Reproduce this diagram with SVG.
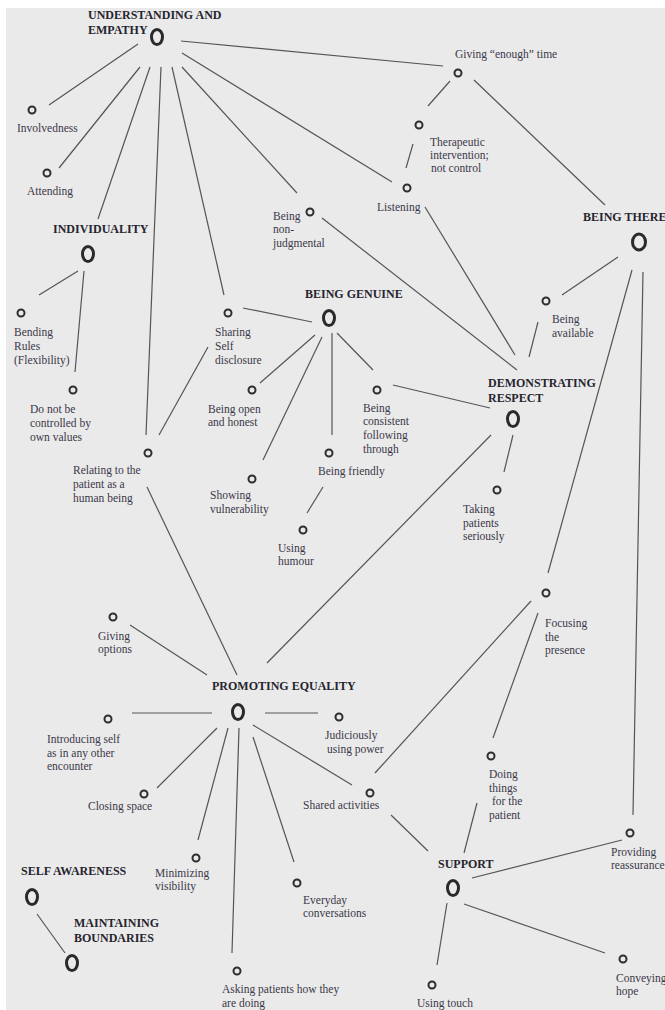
<svg xmlns="http://www.w3.org/2000/svg" width="665" height="1010" viewBox="0 0 665 1010">
<style>
text{font-family:"Liberation Serif","Times New Roman",serif;font-size:11.5px;fill:#3a3848}
.h{font-weight:bold;font-size:12px;fill:#26242e}
.big{fill:none;stroke:#2a2a2a;stroke-width:3}
.sm{fill:none;stroke:#2e2e2e;stroke-width:2}
#edges line{stroke:#555;stroke-width:1.2}
</style>
<rect width="665" height="1010" fill="#fff"/>
<rect x="6" y="8" width="659" height="1002" fill="#eaeaea"/>
<g id="edges">
<line x1="181" y1="41" x2="443" y2="66"/>
<line x1="138" y1="44" x2="49" y2="105"/>
<line x1="140" y1="67" x2="59" y2="168"/>
<line x1="150" y1="67" x2="98" y2="219"/>
<line x1="161" y1="67" x2="146" y2="435"/>
<line x1="172" y1="67" x2="224" y2="295"/>
<line x1="182" y1="67" x2="297" y2="193"/>
<line x1="182" y1="53" x2="392" y2="182"/>
<line x1="450" y1="81" x2="428" y2="106"/>
<line x1="474" y1="80" x2="605" y2="205"/>
<line x1="413" y1="144" x2="406" y2="168"/>
<line x1="425" y1="207" x2="515" y2="355"/>
<line x1="322" y1="218" x2="517" y2="370"/>
<line x1="538" y1="322" x2="529" y2="357"/>
<line x1="618" y1="257" x2="562" y2="295"/>
<line x1="632" y1="270" x2="548" y2="573"/>
<line x1="643" y1="272" x2="633" y2="815"/>
<line x1="243" y1="308" x2="312" y2="322"/>
<line x1="315" y1="335" x2="260" y2="383"/>
<line x1="322" y1="337" x2="263" y2="460"/>
<line x1="332" y1="333" x2="332" y2="435"/>
<line x1="337" y1="333" x2="373" y2="370"/>
<line x1="393" y1="385" x2="490" y2="408"/>
<line x1="513" y1="435" x2="504" y2="472"/>
<line x1="491" y1="435" x2="267" y2="663"/>
<line x1="323" y1="487" x2="307" y2="513"/>
<line x1="159" y1="435" x2="208" y2="347"/>
<line x1="147" y1="487" x2="237" y2="675"/>
<line x1="78" y1="271" x2="39" y2="295"/>
<line x1="84" y1="271" x2="75" y2="372"/>
<line x1="130" y1="625" x2="207" y2="675"/>
<line x1="132" y1="713" x2="212" y2="713"/>
<line x1="265" y1="713" x2="318" y2="713"/>
<line x1="217" y1="728" x2="157" y2="788"/>
<line x1="228" y1="728" x2="198" y2="840"/>
<line x1="239" y1="728" x2="232" y2="953"/>
<line x1="253" y1="737" x2="294" y2="862"/>
<line x1="253" y1="725" x2="352" y2="785"/>
<line x1="375" y1="773" x2="531" y2="601"/>
<line x1="391" y1="815" x2="428" y2="851"/>
<line x1="538" y1="613" x2="493" y2="738"/>
<line x1="477" y1="803" x2="464" y2="853"/>
<line x1="472" y1="878" x2="622" y2="840"/>
<line x1="464" y1="904" x2="605" y2="953"/>
<line x1="447" y1="903" x2="437" y2="965"/>
<line x1="37" y1="914" x2="65" y2="953"/>
</g>
<g id="understanding"><ellipse class="big" cx="157" cy="37" rx="5.5" ry="7.5"/><text class="h" x="88" y="19">UNDERSTANDING AND</text><text class="h" x="88" y="34">EMPATHY</text></g>
<g id="individuality"><ellipse class="big" cx="88" cy="254" rx="5.5" ry="7.5"/><text class="h" x="53" y="233">INDIVIDUALITY</text></g>
<g id="being-genuine"><ellipse class="big" cx="329" cy="318" rx="5.5" ry="7.5"/><text class="h" x="305" y="298">BEING GENUINE</text></g>
<g id="demonstrating-respect"><ellipse class="big" cx="513" cy="419" rx="5.5" ry="7.5"/><text class="h" x="488" y="387">DEMONSTRATING</text><text class="h" x="488" y="402">RESPECT</text></g>
<g id="being-there"><ellipse class="big" cx="639" cy="242" rx="6.5" ry="8"/><text class="h" x="583" y="221">BEING THERE</text></g>
<g id="promoting-equality"><ellipse class="big" cx="238" cy="712" rx="5.5" ry="7.5"/><text class="h" x="212" y="690">PROMOTING EQUALITY</text></g>
<g id="support"><ellipse class="big" cx="453" cy="888" rx="5.5" ry="7.5"/><text class="h" x="438" y="868">SUPPORT</text></g>
<g id="self-awareness"><ellipse class="big" cx="32" cy="897" rx="5.5" ry="7.5"/><text class="h" x="21" y="875">SELF AWARENESS</text></g>
<g id="maintaining-boundaries"><ellipse class="big" cx="72" cy="963" rx="5.5" ry="7.5"/><text class="h" x="74" y="927">MAINTAINING</text><text class="h" x="74" y="942">BOUNDARIES</text></g>
<g id="involvedness"><circle class="sm" cx="32" cy="110" r="3.5"/><text x="17" y="132">Involvedness</text></g>
<g id="attending"><circle class="sm" cx="47" cy="173" r="3.5"/><text x="27" y="195">Attending</text></g>
<g id="non-judgmental"><circle class="sm" cx="310" cy="212" r="3.5"/><text x="273" y="220">Being</text><text x="273" y="233">non-</text><text x="273" y="247">judgmental</text></g>
<g id="enough-time"><circle class="sm" cx="458" cy="73" r="3.5"/><text x="455" y="58">Giving “enough” time</text></g>
<g id="therapeutic"><circle class="sm" cx="419" cy="125" r="3.5"/><text x="430" y="146">Therapeutic</text><text x="430" y="159">intervention;</text><text x="431" y="172">not control</text></g>
<g id="listening"><circle class="sm" cx="407" cy="188" r="3.5"/><text x="377" y="211">Listening</text></g>
<g id="bending-rules"><circle class="sm" cx="21" cy="313" r="3.5"/><text x="14" y="336">Bending</text><text x="14" y="350">Rules</text><text x="14" y="364">(Flexibility)</text></g>
<g id="do-not-be"><circle class="sm" cx="73" cy="390" r="3.5"/><text x="30" y="413">Do not be</text><text x="30" y="427">controlled by</text><text x="30" y="441">own values</text></g>
<g id="sharing"><circle class="sm" cx="228" cy="313" r="3.5"/><text x="215" y="336">Sharing</text><text x="215" y="350">Self</text><text x="215" y="364">disclosure</text></g>
<g id="open-honest"><circle class="sm" cx="252" cy="390" r="3.5"/><text x="208" y="413">Being open</text><text x="208" y="426">and honest</text></g>
<g id="relating"><circle class="sm" cx="148" cy="453" r="3.5"/><text x="73" y="474">Relating to the</text><text x="73" y="488">patient as a</text><text x="73" y="502">human being</text></g>
<g id="vulnerability"><circle class="sm" cx="252" cy="479" r="3.5"/><text x="210" y="499">Showing</text><text x="210" y="513">vulnerability</text></g>
<g id="consistent"><circle class="sm" cx="377" cy="390" r="3.5"/><text x="363" y="412">Being</text><text x="363" y="425">consistent</text><text x="363" y="439">following</text><text x="363" y="453">through</text></g>
<g id="friendly"><circle class="sm" cx="329" cy="453" r="3.5"/><text x="318" y="475">Being friendly</text></g>
<g id="available"><circle class="sm" cx="546" cy="301" r="3.5"/><text x="552" y="323">Being</text><text x="552" y="337">available</text></g>
<g id="taking-seriously"><circle class="sm" cx="497" cy="490" r="3.5"/><text x="463" y="513">Taking</text><text x="463" y="527">patients</text><text x="463" y="540">seriously</text></g>
<g id="humour"><circle class="sm" cx="303" cy="530" r="3.5"/><text x="278" y="552">Using</text><text x="278" y="565">humour</text></g>
<g id="options"><circle class="sm" cx="113" cy="617" r="3.5"/><text x="98" y="640">Giving</text><text x="98" y="653">options</text></g>
<g id="introducing"><circle class="sm" cx="108" cy="719" r="3.5"/><text x="47" y="743">Introducing self</text><text x="47" y="757">as in any other</text><text x="47" y="770">encounter</text></g>
<g id="judiciously"><circle class="sm" cx="339" cy="717" r="3.5"/><text x="325" y="739">Judiciously</text><text x="327" y="753">using power</text></g>
<g id="focusing"><circle class="sm" cx="546" cy="593" r="3.5"/><text x="545" y="627">Focusing</text><text x="545" y="641">the</text><text x="545" y="654">presence</text></g>
<g id="doing-things"><circle class="sm" cx="491" cy="756" r="3.5"/><text x="489" y="778">Doing</text><text x="489" y="792">things</text><text x="492" y="805">for the</text><text x="489" y="819">patient</text></g>
<g id="shared"><circle class="sm" cx="370" cy="793" r="3.5"/><text x="303" y="809">Shared activities</text></g>
<g id="closing"><circle class="sm" cx="144" cy="794" r="3.5"/><text x="88" y="810">Closing space</text></g>
<g id="minimizing"><circle class="sm" cx="196" cy="858" r="3.5"/><text x="155" y="877">Minimizing</text><text x="155" y="890">visibility</text></g>
<g id="everyday"><circle class="sm" cx="297" cy="883" r="3.5"/><text x="303" y="904">Everyday</text><text x="303" y="917">conversations</text></g>
<g id="asking"><circle class="sm" cx="237" cy="971" r="3.5"/><text x="222" y="993">Asking patients how they</text><text x="222" y="1007">are doing</text></g>
<g id="reassurance"><circle class="sm" cx="630" cy="833" r="3.5"/><text x="611" y="856">Providing</text><text x="611" y="869">reassurance</text></g>
<g id="hope"><circle class="sm" cx="623" cy="959" r="3.5"/><text x="616" y="982">Conveying</text><text x="616" y="995">hope</text></g>
<g id="touch"><circle class="sm" cx="432" cy="985" r="3.5"/><text x="417" y="1007">Using touch</text></g>
</svg>
